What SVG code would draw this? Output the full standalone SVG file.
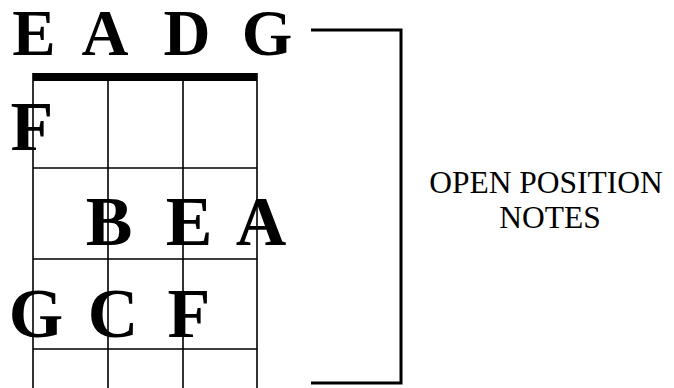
<svg xmlns="http://www.w3.org/2000/svg" width="674" height="388" viewBox="0 0 674 388">
<style>
.grid{stroke:#000;stroke-width:1.6;fill:none}
.note{font-family:"Liberation Serif","Times New Roman",serif;font-weight:bold;fill:#000;text-anchor:middle}
.label{font-family:"Liberation Serif","Times New Roman",serif;font-size:31.5px;fill:#000;text-anchor:middle}
</style>
<rect width="674" height="388" fill="#fff"/>
<g id="fretboard">
<rect x="33" y="73" width="224" height="8" fill="#000"/>
<path class="grid" d="M33 73V388M108 81V388M183 81V388M257 73V388M33 168H257M33 259H257M33 349H257"/>
</g>
<g id="connectors">
<path d="M311 30H401V383H311" stroke="#000" stroke-width="3" fill="none"/>
</g>
<g id="open-strings" class="note" font-size="65">
<text x="34" y="55">E</text>
<text x="105" y="55">A</text>
<text x="187" y="55">D</text>
<text x="267" y="55">G</text>
</g>
<g id="fret1"><text class="note" font-size="70" x="32" y="150">F</text></g>
<g id="fret2" class="note" font-size="70">
<text x="109" y="245">B</text>
<text x="189" y="245">E</text>
<text x="261" y="245">A</text>
</g>
<g id="fret3" class="note" font-size="70">
<text x="36" y="337">G</text>
<text x="113" y="337">C</text>
<text x="189" y="337">F</text>
</g>
<g id="label">
<text class="label" x="546" y="193">OPEN POSITION</text>
<text class="label" x="550" y="228">NOTES</text>
</g>
</svg>
